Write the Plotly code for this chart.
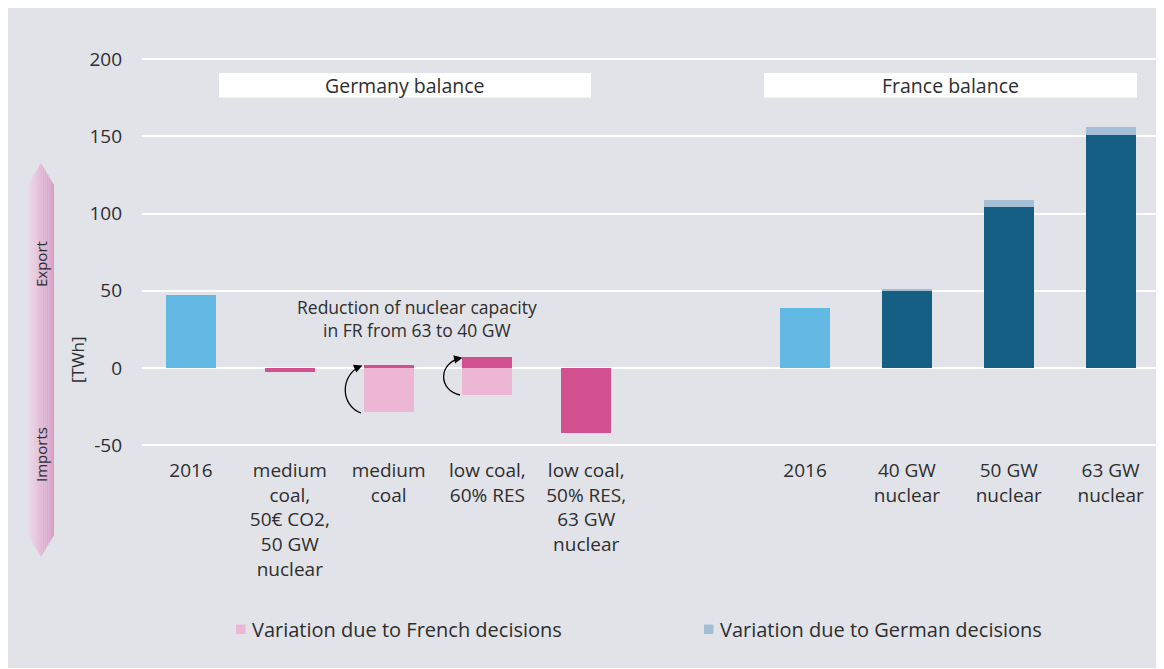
import plotly.graph_objects as go

# ---------------- data ----------------
de_labels = ["2016", "medium<br>coal,<br>50€ CO2,<br>50 GW<br>nuclear", "medium<br>coal",
             "low coal,<br>60% RES", "low coal,<br>50% RES,<br>63 GW<br>nuclear"]
de_balance = [47.3, -2.6, 1.9, 6.9, -42.3]
de_french_variation = [None, None, -28.5, -17.3, None]

fr_labels = ["2016", "40 GW<br>nuclear", "50 GW<br>nuclear", "63 GW<br>nuclear"]
fr_balance = [39.1, 50.3, 104.1, 151.2]
fr_german_variation = [None, 0.9, 4.5, 4.9]

y_ticks = [-50, 0, 50, 100, 150, 200]
y_tick_labels = ["-50", "0", "50", "100", "150", "200"]

# ---------------- styles / layout ----------------
OFF = 8                      # page (body) margin of the html page
W, H = 1164 - OFF, 669 - OFF
ML, MR, MT = 142 - OFF, 3, 50 - OFF
PH = 403
MB = H - MT - PH
PW = W - ML - MR
BG = "#e1e3e9"
LIGHT_BLUE = "#62b9e4"
MAGENTA = "#d2508f"
PINK = "#ecb6d4"
DARK_BLUE = "#155f85"
GREYBLUE = "#a4bed7"
TXT = "#2e2e2e"
FONT = "Open Sans"

# category positions (Germany at unit steps, France group after a gap)
de_x = [float(i) for i in range(len(de_labels))]
fr_start, fr_step = 6.215, 1.031
fr_x = [fr_start + fr_step * i for i in range(len(fr_labels))]
bar_w = 0.506

# screen-pixel helpers for decorations
X_PX0, X_UNIT = 191.0, 98.8      # screen pixel of x=0, pixels per x unit
Y_PX0, Y_UNIT = 368.0, 1.5435    # screen pixel of y=0, pixels per y unit


def dx(px):
    return (px - X_PX0) / X_UNIT


def dy(py):
    return (Y_PX0 - py) / Y_UNIT


def ppx(px):
    return (px - OFF - ML) / PW


def ppy(py):
    return (MT + PH - (py - OFF)) / PH


x_range = [dx(ML + OFF), dx(ML + OFF + PW)]
y_range = [dy(MT + OFF + PH), dy(MT + OFF)]

fig = go.Figure()

fig.add_trace(go.Bar(x=de_x, y=de_balance, width=bar_w,
                     marker=dict(color=[LIGHT_BLUE] + [MAGENTA] * (len(de_x) - 1), line_width=0),
                     name="Germany balance", showlegend=False))
fig.add_trace(go.Bar(x=de_x, y=de_french_variation, base=0, width=bar_w,
                     marker=dict(color=PINK, line_width=0),
                     name="Variation due to French decisions", showlegend=False))
fig.add_trace(go.Bar(x=fr_x, y=fr_balance, width=bar_w,
                     marker=dict(color=[LIGHT_BLUE] + [DARK_BLUE] * (len(fr_x) - 1), line_width=0),
                     name="France balance", showlegend=False))
fig.add_trace(go.Bar(x=fr_x, y=fr_german_variation, base=fr_balance, width=bar_w,
                     marker=dict(color=GREYBLUE, line_width=0),
                     name="Variation due to German decisions", showlegend=False))

shapes = []
annotations = []

# grey panel
shapes.append(dict(type="rect", xref="paper", yref="paper", layer="below",
                   x0=ppx(7), x1=ppx(1170), y0=ppy(668), y1=ppy(8),
                   fillcolor=BG, line_width=0))

# left double-headed gradient arrow (Export / Imports)
cx, hw = 41.0, 13.0
tip_top, sh_top, sh_bot, tip_bot = 163.0, 185.0, 535.0, 557.0
c_left = (234, 220, 232)
c_right = (219, 152, 196)
n = 14


def yt(x):
    return tip_top + (sh_top - tip_top) * abs(x - cx) / hw


def yb(x):
    return tip_bot - (tip_bot - sh_bot) * abs(x - cx) / hw


for i in range(n):
    a = cx - hw + 2 * hw * i / n
    b = cx - hw + 2 * hw * (i + 1) / n
    pts_top = [(a, yt(a))]
    if a < cx < b:
        pts_top.append((cx, yt(cx)))
    pts_top.append((b, yt(b)))
    pts_bot = [(b, yb(b))]
    if a < cx < b:
        pts_bot.append((cx, yb(cx)))
    pts_bot.append((a, yb(a)))
    pts = pts_top + pts_bot
    path = "M " + " L ".join(f"{ppx(x):.5f},{ppy(y):.5f}" for x, y in pts) + " Z"
    t = (i + 0.5) / n
    col = tuple(int(round(c_left[k] + (c_right[k] - c_left[k]) * t)) for k in range(3))
    shapes.append(dict(type="path", xref="paper", yref="paper", layer="below",
                       path=path, fillcolor=f"rgb{col}", line_width=0))


def label(text, px, py, size, angle=0, xanchor="center"):
    annotations.append(dict(text=text, xref="paper", yref="paper", x=ppx(px), y=ppy(py),
                            xanchor=xanchor, yanchor="middle", textangle=angle,
                            showarrow=False, font=dict(size=size, color=TXT, family=FONT)))


label("Export", 41, 264, 15, -90)
label("Imports", 41, 455, 15, -90)
label("[TWh]", 77, 360, 17, -90)

# group header boxes
for (x0p, x1p, text) in [(219, 591, "Germany balance"), (764, 1137, "France balance")]:
    shapes.append(dict(type="rect", xref="x", yref="y", layer="between",
                       x0=dx(x0p), x1=dx(x1p), y0=dy(97.5), y1=dy(73),
                       fillcolor="white", line_width=0))
    annotations.append(dict(text=text, xref="x", yref="y", x=dx((x0p + x1p) / 2), y=dy(85.5),
                            xanchor="center", yanchor="middle", showarrow=False,
                            font=dict(size=19.5, color=TXT, family=FONT)))

# note
annotations.append(dict(text="Reduction of nuclear capacity<br>in FR from 63 to 40 GW",
                        xref="x", yref="y", x=dx(417), y=dy(318), xanchor="center",
                        yanchor="middle", showarrow=False,
                        font=dict(size=17.5, color=TXT, family=FONT)))

# curved arrows
curves = [((361, 413), (340, 405), (340, 375), (361, 366)),
          ((460, 395), (438, 390), (438, 363), (461, 358))]
for p0, c1, c2, p3 in curves:
    path = "M {},{} C {},{} {},{} {},{}".format(
        dx(p0[0]), dy(p0[1]), dx(c1[0]), dy(c1[1]), dx(c2[0]), dy(c2[1]), dx(p3[0]), dy(p3[1]))
    shapes.append(dict(type="path", xref="x", yref="y", layer="above", path=path,
                       line=dict(color="black", width=1.3)))
    vx, vy = p3[0] - c2[0], p3[1] - c2[1]
    ln = (vx ** 2 + vy ** 2) ** 0.5
    annotations.append(dict(x=dx(p3[0] + vx / ln * 1.5), y=dy(p3[1] + vy / ln * 1.5),
                            xref="x", yref="y", text="", showarrow=True,
                            ax=-vx / ln * 7, ay=-vy / ln * 7, arrowhead=2, arrowsize=1.3,
                            arrowwidth=1.3, arrowcolor="black"))

# manual legend
legend_items = [(236, PINK, "Variation due to French decisions"),
                (704, GREYBLUE, "Variation due to German decisions")]
for lx, col, text in legend_items:
    shapes.append(dict(type="rect", xref="paper", yref="paper", layer="above",
                       x0=ppx(lx), x1=ppx(lx + 9.5), y0=ppy(634), y1=ppy(624.5),
                       fillcolor=col, line_width=0))
    label(text, lx + 14, 629, 20, 0, "left")

fig.update_layout(
    width=W, height=H,
    margin=dict(l=ML, r=MR, t=MT, b=MB),
    paper_bgcolor="white", plot_bgcolor="rgba(0,0,0,0)",
    barmode="overlay", bargap=0,
    showlegend=False,
    font=dict(family=FONT, color=TXT),
    shapes=shapes, annotations=annotations,
    xaxis=dict(range=x_range, tickvals=de_x + fr_x, ticktext=de_labels + fr_labels,
               showgrid=False, zeroline=False, showline=False, ticks="", ticklabelstandoff=4,
               tickfont=dict(size=19, color=TXT, family=FONT), fixedrange=True),
    yaxis=dict(range=y_range, tickvals=y_ticks, ticktext=y_tick_labels, showgrid=True,
               gridcolor="white", gridwidth=1.6,
               zeroline=False, showline=False, ticks="", ticklabelstandoff=19,
               tickfont=dict(size=19, color=TXT, family=FONT), fixedrange=True),
)

fig.write_html(
    "out.html",
    post_script="document.documentElement.style.overflow='hidden';"
                "document.body.style.overflow='hidden';",
)
